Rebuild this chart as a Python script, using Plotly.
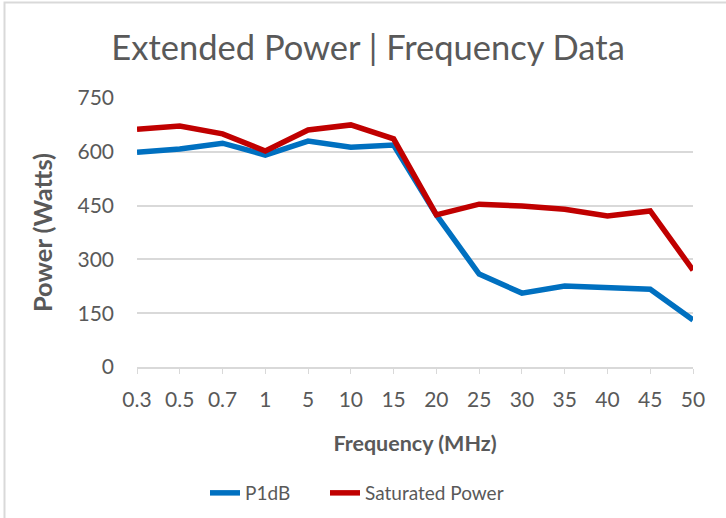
import plotly.graph_objects as go

frequencies = ["0.3", "0.5", "0.7", "1", "5", "10", "15", "20", "25", "30", "35", "40", "45", "50"]
p1db = [599, 608, 624, 591, 630, 613, 619, 424, 259, 206, 226, 223, 217, 131]
saturated = [663, 672, 650, 602, 661, 675, 636, 424, 454, 449, 440, 421, 435, 270]
y_ticks = [0, 150, 300, 450, 600, 750]

W, H = 726, 518
L, R, T, B = 137, 33, 98, 151
FONT = "Lato, 'Open Sans', sans-serif"
GREY = "#595959"

fig = go.Figure()
fig.add_trace(go.Scatter(x=frequencies, y=p1db, mode="lines", name="P1dB", showlegend=True,
                         line=dict(color="#0070C0", width=5.5), legend="legend"))
fig.add_trace(go.Scatter(x=frequencies, y=saturated, mode="lines", name="Saturated Power", showlegend=True,
                         line=dict(color="#C00000", width=5.5), legend="legend2"))

legend_common = dict(orientation="h", xref="container", xanchor="left",
                     y=1 - 493 / H, yref="container", yanchor="middle",
                     font=dict(size=19, color=GREY), bgcolor="rgba(0,0,0,0)")

fig.update_layout(
    width=W, height=H, showlegend=True,
    margin=dict(l=L, r=R, t=T, b=B, autoexpand=False),
    paper_bgcolor="white", plot_bgcolor="white",
    font=dict(family=FONT, color=GREY),
    title=dict(text="Extended Power | Frequency Data", x=0.507, xanchor="center",
               y=1 - 48 / H, yanchor="middle", font=dict(size=34.5, color=GREY)),
    xaxis=dict(type="category", range=[0, len(frequencies) - 1], showgrid=False,
               showline=True, linecolor="#D9D9D9", linewidth=1.5,
               ticks="outside", ticklen=5, tickcolor="#D9D9D9",
               ticklabelstandoff=8,
               tickfont=dict(size=21, color=GREY),
               title=dict(text="<b>Frequency (MHz)</b>", font=dict(size=21.5, color=GREY), standoff=26)),
    yaxis=dict(range=[0, 750], tickvals=y_ticks, showgrid=True, gridcolor="#D9D9D9", gridwidth=1.5,
               zeroline=False, showline=False, ticks="", ticklabelstandoff=22,
               tickfont=dict(size=21, color=GREY),
               title=dict(text="<b>Power (Watts)</b>", font=dict(size=25.5, color=GREY), standoff=17)),
    legend=dict(x=205 / W, **legend_common),
    legend2=dict(x=325 / W, **legend_common),
    shapes=[dict(type="rect", xref="paper", yref="paper",
                 x0=(4.5 - L) / (W - L - R), x1=(W + 10 - L) / (W - L - R),
                 y0=-(B + 10) / (H - T - B), y1=(H - 2.5 - B) / (H - T - B),
                 line=dict(color="#D9D9D9", width=2), fillcolor="rgba(0,0,0,0)", layer="below")],
)

fig.write_html("out.html", config={"displayModeBar": False},
               post_script="document.body.style.margin='0px';")
